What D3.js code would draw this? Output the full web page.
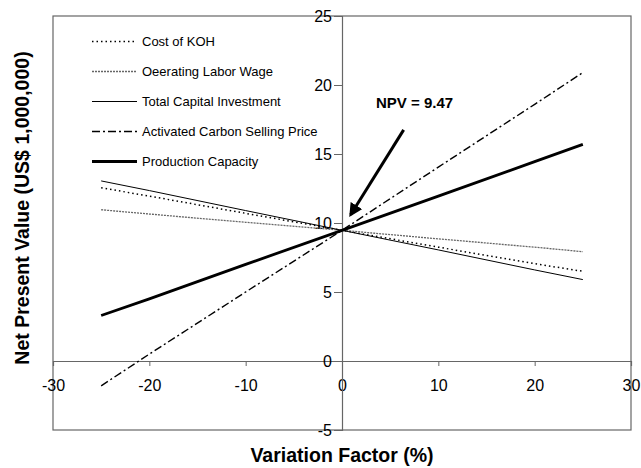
<!DOCTYPE html>
<html>
<head>
<meta charset="utf-8">
<style>
body { margin: 0; background: #fff; }
svg { display: block; font-family: "Liberation Sans", Arial, sans-serif; }
</style>
</head>
<body>
<svg width="641" height="468"></svg>
<script src="https://d3js.org/d3.v7.min.js"></script>
<script>

// variation factor (%) at which NPV was evaluated
var factors = [-25, -20, -10, 0, 10, 20, 25]

// NPV values (US$ 1,000,000)
var kohCost = [12.55, 11.95, 10.7, 9.47, 8.25, 7.05, 6.5]
var laborWage = [10.96, 10.65, 10.05, 9.47, 8.85, 8.25, 7.92]
var capitalInvestment = [13.05, 12.35, 10.9, 9.47, 8.05, 6.6, 5.9]
var carbonPrice = [-1.8, 0.5, 5.0, 9.47, 14.05, 18.6, 20.9]
var productionCapacity = [3.3, 4.5, 7.0, 9.47, 11.95, 14.45, 15.7]

var seriesNames = ['Cost of KOH', 'Oeerating Labor Wage', 'Total Capital Investment',
  'Activated Carbon Selling Price', 'Production Capacity']

var xTicks = [-30, -20, -10, 0, 10, 20, 30]
var yTicks = [-5, 0, 5, 10, 15, 20, 25]
var npvLabel = 'NPV = 9.47'

// line styles for each series
var styles = [
  { stroke: '#000', width: 1.5, dash: '1.5,3' },
  { stroke: '#666', width: 1.3, dash: '2,1' },
  { stroke: '#000', width: 1, dash: null },
  { stroke: '#000', width: 1.4, dash: '8,3,2,3' },
  { stroke: '#000', width: 2.8, dash: null }
]

var allSeries = [kohCost, laborWage, capitalInvestment, carbonPrice, productionCapacity]

// plain hyphen for negatives, like the original
var fmt = function (d) { return String(d) }

var svg = d3.select('svg')

var x = d3.scaleLinear().domain([-30, 30]).range([53, 631])
var y = d3.scaleLinear().domain([-5, 25]).range([430, 16])

// frame
svg.append('rect')
  .attr('x', x(-30)).attr('y', y(25))
  .attr('width', x(30) - x(-30)).attr('height', y(-5) - y(25))
  .attr('fill', 'none').attr('stroke', '#666').attr('stroke-width', 1.2)

// x axis through y = 0
var xAxis = svg.append('g')
  .attr('transform', 'translate(0,' + y(0) + ')')
  .call(d3.axisBottom(x).tickValues(xTicks).tickSize(5).tickPadding(14).tickFormat(fmt))
xAxis.select('.domain').attr('stroke', '#666').attr('stroke-width', 1.2)
xAxis.selectAll('.tick line').attr('stroke', '#666')
xAxis.selectAll('text').attr('font-size', 16).attr('fill', '#000')
  .attr('font-family', '"Liberation Sans", Arial, sans-serif')

// y axis through x = 0
var yAxis = svg.append('g')
  .attr('transform', 'translate(' + x(0) + ',0)')
  .call(d3.axisLeft(y).tickValues(yTicks).tickSize(8).tickPadding(2).tickFormat(fmt))
yAxis.select('.domain').attr('stroke', '#666').attr('stroke-width', 1.2)
yAxis.selectAll('.tick line').attr('stroke', '#666')
yAxis.selectAll('text').attr('font-size', 16).attr('fill', '#000')
  .attr('font-family', '"Liberation Sans", Arial, sans-serif')

// series lines
var line = d3.line()
  .x(function (d, i) { return x(factors[i]) })
  .y(function (d) { return y(d) })

svg.append('g').selectAll('path')
  .data(allSeries)
  .enter().append('path')
  .attr('d', line)
  .attr('fill', 'none')
  .attr('stroke', function (d, i) { return styles[i].stroke })
  .attr('stroke-width', function (d, i) { return styles[i].width })
  .attr('stroke-dasharray', function (d, i) { return styles[i].dash })

// legend
var legend = svg.append('g').selectAll('g')
  .data(seriesNames)
  .enter().append('g')
  .attr('transform', function (d, i) { return 'translate(92,' + (41.5 + i * 30) + ')' })

legend.append('line')
  .attr('x1', 0).attr('x2', 45).attr('y1', 0).attr('y2', 0)
  .attr('stroke', function (d, i) { return styles[i].stroke })
  .attr('stroke-width', function (d, i) { return styles[i].width })
  .attr('stroke-dasharray', function (d, i) { return styles[i].dash })

legend.append('text')
  .attr('x', 50).attr('y', 4.5)
  .attr('font-size', 13)
  .text(function (d) { return d })

// NPV annotation with arrow
svg.append('defs').append('marker')
  .attr('id', 'head')
  .attr('viewBox', '0 -5 10 10')
  .attr('refX', 8).attr('refY', 0)
  .attr('markerWidth', 4.5).attr('markerHeight', 4.5)
  .attr('markerUnits', 'strokeWidth')
  .attr('orient', 'auto')
  .append('path').attr('d', 'M0,-5L10,0L0,5Z').attr('fill', '#000')

svg.append('line')
  .attr('x1', x(6.4)).attr('y1', y(16.75))
  .attr('x2', x(0.9)).attr('y2', y(10.6))
  .attr('stroke', '#000').attr('stroke-width', 3)
  .attr('marker-end', 'url(#head)')

svg.append('text')
  .attr('x', 376).attr('y', 108)
  .attr('font-size', 15).attr('font-weight', 'bold')
  .text(npvLabel)

// axis titles
svg.append('text')
  .attr('x', x(0)).attr('y', 462)
  .attr('text-anchor', 'middle')
  .attr('font-size', 19.5).attr('font-weight', 'bold')
  .text('Variation Factor (%)')

svg.append('text')
  .attr('transform', 'translate(29,' + 208 + ') rotate(-90)')
  .attr('text-anchor', 'middle')
  .attr('font-size', 19.5).attr('font-weight', 'bold')
  .text('Net Present Value (US$ 1,000,000)')

</script>
</body>
</html>
